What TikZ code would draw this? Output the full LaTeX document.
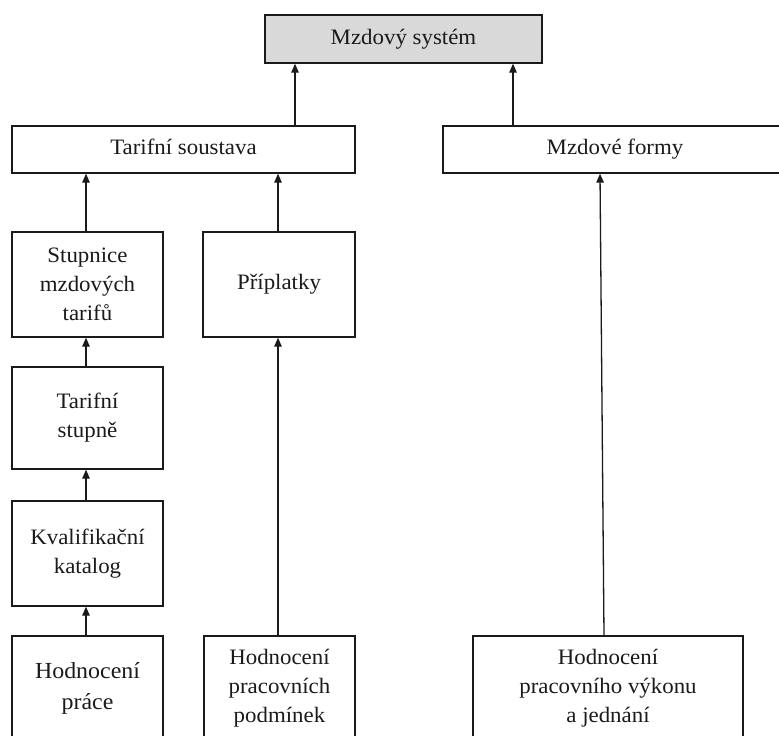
\documentclass[tikz,border=0pt]{standalone}
\usepackage{fontspec}
\setmainfont{Liberation Serif}[FakeStretch=1.04]
\usetikzlibrary{arrows.meta}
\definecolor{boxgray}{HTML}{D9D9D9}
\definecolor{ink}{HTML}{1A1A1A}
\begin{document}
\begin{tikzpicture}[x=1pt,y=-1pt,
  box/.style={draw=ink, line width=1.4pt, rectangle, inner sep=0pt, align=center,
    text=ink, font=\fontsize{22}{29}\selectfont},
  oneline/.style={text height=15pt, text depth=5pt},
  conn/.style={draw=ink, line width=1.3pt, -{Triangle[length=9pt,width=7.5pt]}}]
\useasboundingbox (0,0) rectangle (779,736);
\clip (0,0) rectangle (779,736);
\node[box, oneline, fill=boxgray, minimum width=277pt, minimum height=48pt] (sys) at (403.5,39) {Mzdový systém};
\node[box, oneline, minimum width=343pt, minimum height=47pt] (tar) at (183.5,149.5) {Tarifní soustava};
\node[box, oneline, minimum width=344pt, minimum height=47pt] (mzf) at (615,149.5) {Mzdové formy};
\node[box, minimum width=151pt, minimum height=105pt] (stu) at (87.5,284.5) {Stupnice\\mzdových\\tarifů};
\node[box, minimum width=152pt, minimum height=105pt] (pri) at (279,284.5) {Příplatky};
\node[box, minimum width=151pt, minimum height=102pt] (ts) at (87.5,418) {Tarifní\\stupně};
\node[box, minimum width=151pt, minimum height=105pt] (kk) at (87.5,553.5) {Kvalifikační\\katalog};
\node[box, minimum width=151pt, minimum height=104pt, font=\fontsize{23}{31}\selectfont] (hp) at (87.5,688) {Hodnocení\\práce};
\node[box, minimum width=151pt, minimum height=104pt] (hpp) at (279.5,688) {Hodnocení\\pracovních\\podmínek};
\node[box, minimum width=270pt, minimum height=104pt] (hpv) at (608,688) {Hodnocení\\pracovního výkonu\\a jednání};
\draw[conn] (tar.north -| 295,0) -- (sys.south -| 295,0);
\draw[conn] (mzf.north -| 513,0) -- (sys.south -| 513,0);
\draw[conn] (stu.north -| 86,0) -- (tar.south -| 86,0);
\draw[conn] (pri.north -| 278,0) -- (tar.south -| 278,0);
\draw[conn] (hpp.north -| 278,0) -- (pri.south -| 278,0);
\draw[conn] (ts.north -| 86,0) -- (stu.south -| 86,0);
\draw[conn] (kk.north -| 86,0) -- (ts.south -| 86,0);
\draw[conn] (hp.north -| 86,0) -- (kk.south -| 86,0);
\draw[conn] (hpv.north -| 604,0) -- (mzf.south -| 600,0);
\end{tikzpicture}
\end{document}
